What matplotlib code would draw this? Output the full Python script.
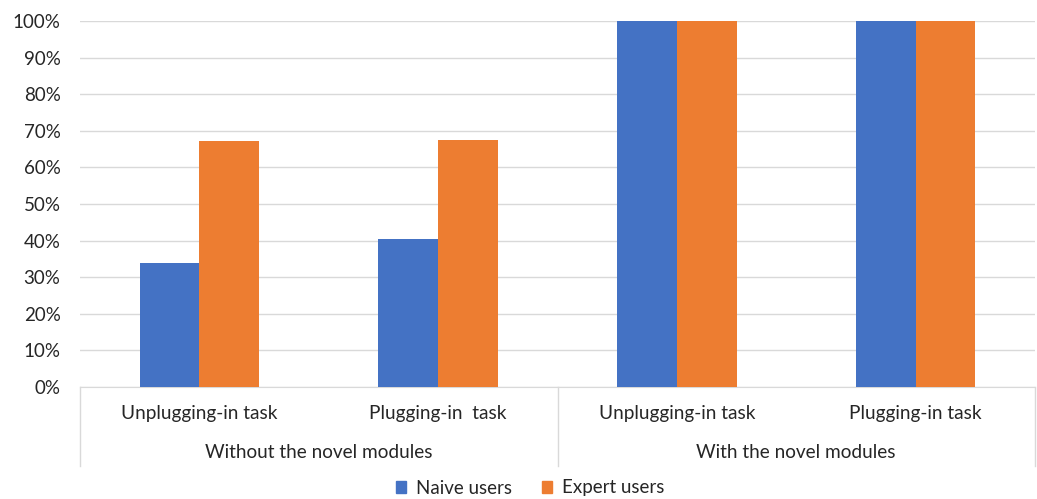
import matplotlib
matplotlib.use("Agg")
import matplotlib.pyplot as plt
from matplotlib.lines import Line2D
from matplotlib.patches import Patch
from matplotlib.transforms import blended_transform_factory
import numpy as np

plt.rcParams['font.family'] = ['Lato', 'DejaVu Sans']

categories = ["Unplugging-in task", "Plugging-in  task", "Unplugging-in task", "Plugging-in task"]
groups = ["Without the novel modules", "With the novel modules"]
naive = [34.0, 40.4, 100.0, 100.0]
expert = [67.3, 67.5, 100.0, 100.0]
series_names = ["Naive users", "Expert users"]
yticks = [0, 10, 20, 30, 40, 50, 60, 70, 80, 90, 100]

blue = "#4472C4"
orange = "#ED7D31"
txt = "#262626"

fig = plt.figure(figsize=(10.37, 4.99), dpi=100)
ax = fig.add_axes([80/1037, 1 - 387/499, (1035-80)/1037, (387-21)/499])

x = np.arange(len(categories))
w = 0.25
ax.bar(x - w/2, naive, width=w, color=blue, zorder=3)
ax.bar(x + w/2, expert, width=w, color=orange, zorder=3)

ax.set_xlim(-0.5, len(categories) - 0.5)
ax.set_ylim(0, 100)
ax.set_yticks(yticks)
ax.set_yticklabels([f"{v}%" for v in yticks], fontsize=13.5, color=txt)
ax.tick_params(axis='y', length=0, pad=14)
ax.set_xticks([])
ax.grid(axis='y', color='#d9d9d9', linewidth=1, zorder=0)
for s in ['top', 'right', 'left']:
    ax.spines[s].set_visible(False)
ax.spines['bottom'].set_color('#d9d9d9')

tr = blended_transform_factory(ax.transData, ax.transAxes)
ppx = 1.0 / 366.0
for i, c in enumerate(categories):
    ax.text(i, -(413 - 387) * ppx, c, transform=tr, ha='center', va='center',
            fontsize=13.7, color=txt)
for g, name in enumerate(groups):
    ax.text(g * 2 + 0.5, -(453 - 387) * ppx, name, transform=tr, ha='center',
            va='center', fontsize=13.7, color=txt)
for xs in [-0.5, 1.5, 3.5]:
    ax.add_line(Line2D([xs, xs], [0, -(466 - 387) * ppx], transform=tr,
                       color='#d9d9d9', linewidth=1, clip_on=False))

handles = [Patch(color=blue), Patch(color=orange)]
fig.legend(handles, series_names, loc='center', bbox_to_anchor=(530/1037, 1 - 488/499),
           ncol=2, frameon=False, fontsize=13.5, handlelength=0.55, handleheight=0.55,
           handletextpad=0.5, columnspacing=1.6, labelcolor=txt)

fig.savefig("out.png", dpi=100)
